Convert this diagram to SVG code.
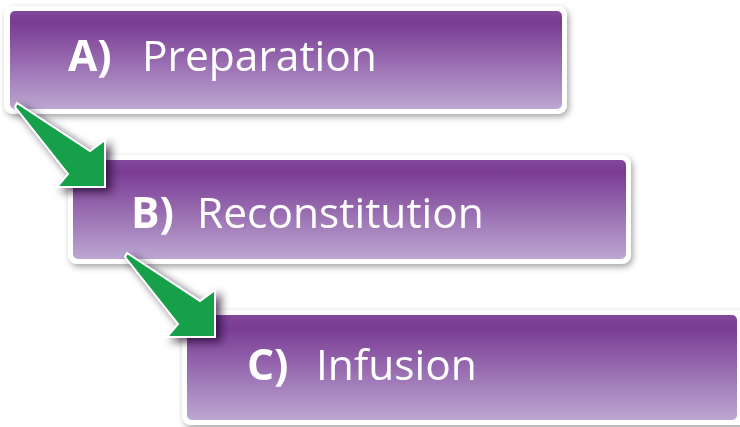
<svg xmlns="http://www.w3.org/2000/svg" width="740" height="427" viewBox="0 0 740 427">
<defs>
<linearGradient id="pg" x1="0" y1="0" x2="0" y2="1">
<stop offset="0" stop-color="#80489b"/>
<stop offset="0.12" stop-color="#7a3b94"/>
<stop offset="1" stop-color="#bca7d2"/>
</linearGradient>
<filter id="sh" x="-10%" y="-20%" width="120%" height="150%">
<feGaussianBlur in="SourceAlpha" stdDeviation="3"/>
<feOffset dx="2" dy="3" result="b"/>
<feFlood flood-color="#000" flood-opacity="0.35"/>
<feComposite in2="b" operator="in"/>
<feMerge><feMergeNode/><feMergeNode in="SourceGraphic"/></feMerge>
</filter>
<filter id="ash" x="-30%" y="-30%" width="160%" height="160%">
<feGaussianBlur in="SourceAlpha" stdDeviation="4"/>
<feOffset dx="5" dy="4" result="b"/>
<feFlood flood-color="#1a0a22" flood-opacity="0.7"/>
<feComposite in2="b" operator="in"/>
<feMerge><feMergeNode/><feMergeNode in="SourceGraphic"/></feMerge>
</filter>
<polygon id="arr" points="-88,-84 -15,-36 0,-47 0,0 -48,0 -37,-13 -90,-80"/>
</defs>
<style>
.frame{fill:#ffffff}
.box{fill:url(#pg)}
.t{font-family:"Open Sans","Noto Sans","Liberation Sans",sans-serif;font-size:42.5px;fill:#ffffff}
.b{font-weight:bold}
.arrow{fill:#12a04a;stroke:#ffffff;stroke-width:2;stroke-linejoin:miter}
</style>
<rect width="740" height="427" fill="#ffffff"/>
<g id="nodeA" filter="url(#sh)">
<rect class="frame" x="4" y="6" width="563" height="108" rx="9"/>
<rect class="box" x="10" y="11" width="552" height="98" rx="5"/>
<text class="t b" x="68" y="71">A)</text>
<text class="t" x="142" y="71">Preparation</text>
</g>
<g id="nodeB" filter="url(#sh)">
<rect class="frame" x="68" y="155" width="563" height="109" rx="9"/>
<rect class="box" x="73" y="160" width="553" height="99" rx="5"/>
<text class="t b" x="131" y="228">B)</text>
<text class="t" x="197" y="228">Reconstitution</text>
</g>
<g id="nodeC" filter="url(#sh)">
<rect class="frame" x="182" y="310" width="570" height="115" rx="9"/>
<rect class="box" x="187" y="315" width="550" height="105" rx="5"/>
<text class="t b" x="247" y="380">C)</text>
<text class="t" x="316" y="380">Infusion</text>
</g>
<g id="connectors">
<use href="#arr" class="arrow" transform="translate(105,187)" filter="url(#ash)"/>
<use href="#arr" class="arrow" transform="translate(215,337)" filter="url(#ash)"/>
</g>
</svg>
